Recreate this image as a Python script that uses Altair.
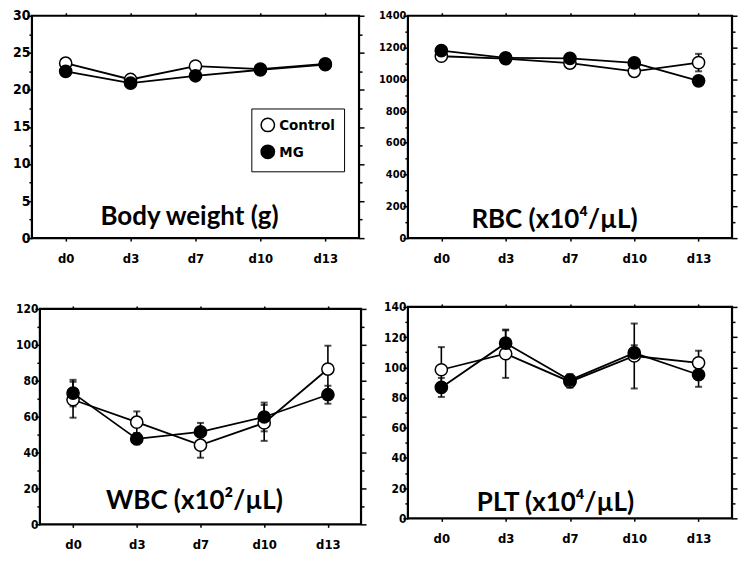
import altair as alt
import pandas as pd

days = ["d0", "d3", "d7", "d10", "d13"]
groups = ["Control", "MG"]

# Body weight (g)
bw_control = [23.6, 21.4, 23.2, 22.8, 23.5]
bw_control_sd = [0.3, 0.4, 0.3, 0.4, 0.3]
bw_mg = [22.5, 20.9, 21.9, 22.7, 23.4]
bw_mg_sd = [0.4, 0.4, 0.4, 0.4, 0.4]

# RBC (x10^4/uL)
rbc_control = [1145, 1130, 1102, 1050, 1105]
rbc_control_sd = [15, 15, 15, 15, 55]
rbc_mg = [1180, 1135, 1132, 1103, 990]
rbc_mg_sd = [15, 15, 15, 15, 20]

# WBC (x10^2/uL)
wbc_control = [69.4, 56.9, 44.1, 56.5, 86.5]
wbc_control_sd = [10, 6, 7, 10, 13]
wbc_mg = [73.1, 47.6, 51.5, 59.8, 72.2]
wbc_mg_sd = [7.4, 3, 5, 8, 5]

# PLT (x10^4/uL)
plt_control = [98.4, 109, 90.5, 107.5, 103]
plt_control_sd = [15, 16, 4, 21.5, 8]
plt_mg = [86.7, 116, 91.5, 109.6, 95.1]
plt_mg_sd = [6.3, 8.5, 4, 5, 8]

LABEL_FONT = "DejaVu Sans Condensed, Liberation Sans Narrow, sans-serif"
TITLE_FONT = "Lato, Open Sans, sans-serif"


def make_df(ctrl, ctrl_sd, mg, mg_sd):
    rows = []
    for g, m, s in (("Control", ctrl, ctrl_sd), ("MG", mg, mg_sd)):
        for d, v, e in zip(days, m, s):
            rows.append({"day": d, "group": g, "mean": v, "lo": v - e, "hi": v + e})
    return pd.DataFrame(rows)


def panel(df, ymax, major, minor, title, tx, ty, w, h, ext, top_ext, yfs,
          xoff=0, legend=False):
    vw = w + xoff
    vals = [round(i * minor, 4) for i in range(int(round(ymax / minor)) + 1)]
    xscale = alt.Scale(type="point", domain=days, padding=0.52, range=[xoff, vw])
    yscale = alt.Scale(domain=[0, ymax], nice=False, zero=True)
    tick_cond = {"condition": {"test": f"datum.value % {major} == 0", "value": 5}, "value": 3}
    xaxis = alt.Axis(title=None, labelAngle=0, domain=False, tickSize=3, tickWidth=1.5,
                     tickColor="black", labelPadding=11, labelFont=LABEL_FONT,
                     labelFontSize=13, labelFontWeight="bold", labelColor="black",
                     minExtent=28)
    yaxis = alt.Axis(title=None, domain=False, values=vals, grid=False,
                     labelExpr=f"datum.value % {major} == 0 ? format(datum.value, 'd') : ''",
                     tickSize=tick_cond, tickWidth=1.5, tickColor="black",
                     labelPadding=-3, labelFont=LABEL_FONT, labelFontSize=yfs,
                     labelFontWeight="bold", labelColor="black",
                     minExtent=ext, offset=-xoff)
    x = alt.X("day:N", scale=xscale, sort=days, axis=xaxis)
    base = alt.Chart(df)
    frame = alt.Chart(pd.DataFrame({"f": [0]})).mark_rect(
        fillOpacity=0, stroke="black", strokeWidth=2.2).encode(
        x=alt.value(xoff), x2=alt.value(vw), y=alt.value(0), y2=alt.value(h))
    err = base.mark_rule(color="black", strokeWidth=1.6).encode(
        x=x, y=alt.Y("lo:Q", scale=yscale, axis=yaxis), y2="hi:Q")
    cap_lo = base.mark_tick(color="black", size=7, thickness=2).encode(
        x=x, y=alt.Y("lo:Q", scale=yscale, axis=yaxis))
    cap_hi = base.mark_tick(color="black", size=7, thickness=2).encode(
        x=x, y=alt.Y("hi:Q", scale=yscale, axis=yaxis))
    line = base.mark_line(color="black", strokeWidth=1.8).encode(
        x=x, y=alt.Y("mean:Q", scale=yscale, axis=yaxis), detail="group:N")
    if legend:
        leg = alt.Legend(title=None, orient="none", legendX=220 + xoff, legendY=93,
                         strokeColor="black", padding=9, symbolType="circle",
                         symbolSize=180, symbolStrokeColor="black", symbolStrokeWidth=1.5,
                         symbolOpacity=1, labelFont=LABEL_FONT, labelFontSize=15,
                         labelFontWeight="bold", labelColor="black", rowPadding=6,
                         fillColor="white")
    else:
        leg = None
    pts = base.mark_point(filled=True, size=150, stroke="black", strokeWidth=1.5, opacity=1).encode(
        x=x, y=alt.Y("mean:Q", scale=yscale, axis=yaxis),
        fill=alt.Fill("group:N", scale=alt.Scale(domain=groups, range=["white", "black"]), legend=leg))
    ttl = alt.Chart(pd.DataFrame({"t": [title]})).mark_text(
        font=TITLE_FONT, fontSize=26, fontWeight="bold", color="black",
        align="center", baseline="middle").encode(
        text="t:N", x=alt.value(tx + xoff), y=alt.value(ty))
    inner = alt.layer(frame, err, cap_lo, cap_hi, line, pts, ttl)
    mirror = base.mark_point(opacity=0).encode(
        x=alt.X("day:N", scale=xscale, sort=days,
                axis=alt.Axis(orient="top", labels=False, title=None, domain=False,
                              tickSize=3, tickWidth=1.5, tickColor="black",
                              minExtent=top_ext, maxExtent=top_ext)),
        y=alt.Y("mean:Q", scale=yscale,
                axis=alt.Axis(orient="right", labels=False, title=None, domain=False,
                              values=vals, tickSize=tick_cond, tickWidth=1.5,
                              tickColor="black", grid=False, minExtent=5, maxExtent=5)))
    return alt.layer(inner, mirror).resolve_scale(x="independent", y="independent").properties(
        width=vw, height=h)


p1 = panel(make_df(bw_control, bw_control_sd, bw_mg, bw_mg_sd), 30, 5, 2.5,
           "Body weight (g)", 158, 202, 328, 223, 24, 7, 14, legend=True)
p2 = panel(make_df(rbc_control, rbc_control_sd, rbc_mg, rbc_mg_sd), 1400, 200, 100,
           "RBC (x10\u2074/\u00b5L)", 147, 205, 325, 223, 30, 7, 11)
p3 = panel(make_df(wbc_control, wbc_control_sd, wbc_mg, wbc_mg_sd), 120, 20, 10,
           "WBC (x10\u00b2/\u00b5L)", 155, 193, 322, 216, 32, 10, 12, xoff=8)
p4 = panel(make_df(plt_control, plt_control_sd, plt_mg, plt_mg_sd), 140, 20, 10,
           "PLT (x10\u2074/\u00b5L)", 148, 197, 325, 212, 30, 8, 12)

chart = alt.concat(
    p1, p2, p3, p4, columns=2,
    spacing=alt.RowColnumber(row=33, column=11),
).properties(
    align="none",
    padding={"left": 0, "top": 0, "right": 0, "bottom": 0}, background="white"
).resolve_legend(fill="independent").configure_view(strokeWidth=0)

chart.save("out.html", embed_options={"renderer": "svg", "actions": False})
